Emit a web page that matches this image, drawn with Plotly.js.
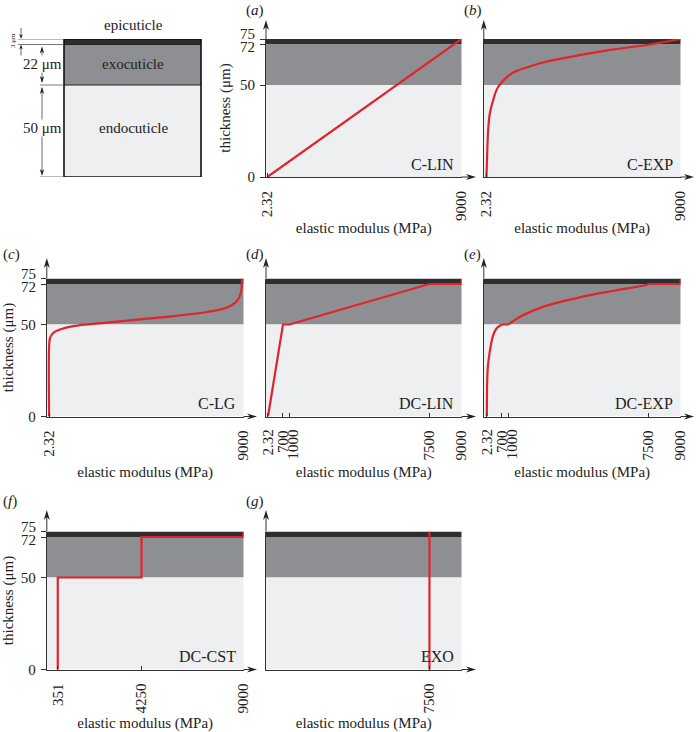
<!DOCTYPE html>
<html><head><meta charset="utf-8">
<script src="https://cdn.plot.ly/plotly-3.0.1.min.js"></script>
<style>html,body{margin:0;padding:0;background:#fff}#chart{width:696px;height:732px}</style>
</head><body><div id="chart"></div>
<script>
// ---------------- data ----------------
const layerNames = ['epicuticle', 'exocuticle', 'endocuticle'];
const layerBottoms = [72, 50, 0];
const layerTops = [75, 72, 50];
const layerColors = ['#2e2e2e', '#8e8f92', '#eeeff1'];

const yTickVals = [0, 50, 72, 75];
const yTickText = ['0', '50', '72', '75'];

const panelLetters = ['a', 'b', 'c', 'd', 'e', 'f', 'g'];
const panelNames = ['C-LIN', 'C-EXP', 'C-LG', 'DC-LIN', 'DC-EXP', 'DC-CST', 'EXO'];
const xTickVals = [
  [2.32, 9000], [2.32, 9000], [2.32, 9000],
  [2.32, 700, 1000, 7500, 9000], [2.32, 700, 1000, 7500, 9000],
  [351, 4250, 9000], [7500]
];
const xTickText = [
  ['2.32', '9000'], ['2.32', '9000'], ['2.32', '9000'],
  ['2.32', '700', '1000', '7500', '9000'], ['2.32', '700', '1000', '7500', '9000'],
  ['351', '4250', '9000'], ['7500']
];

// (a) C-LIN
const clinE = [2.32, 9000];
const clinT = [0, 75];
// (b) C-EXP
const cexpE = [2.32, 33, 80, 159, 312, 544, 1162, 1938, 2714, 4261, 5808, 7360, 9000];
const cexpT = [0, 10.9, 25, 34.5, 41.7, 48.9, 56.2, 59.8, 62.5, 66.1, 69.2, 71.6, 75];
// (c) C-LG
const clgE = [2.32, 2.32, 47, 200, 510, 1126, 2673, 4215, 5758, 7305, 8232, 8695, 8880, 8930];
const clgT = [0, 38.2, 42.8, 45.5, 47.3, 49.1, 51, 52.8, 54.6, 56.8, 59.2, 62.8, 67.4, 75];
// (d) DC-LIN
const dclinE = [2.32, 700, 1000, 7500, 9000, 9000];
const dclinT = [0, 50, 50, 72, 72, 75];
// (e) DC-EXP
const dcexpLowE = [2.32, 40, 129, 283, 438, 700];
const dcexpLowT = [0, 25.5, 34.6, 43.7, 47.7, 50];
const dcexpFlatE = [700, 1000];
const dcexpFlatT = [50, 50];
const dcexpHighE = [1000, 1608, 2705, 4266, 5827, 7393, 7500];
const dcexpHighT = [50, 54.6, 60, 64.6, 68.2, 71.5, 72];
const dcexpTopE = [7500, 9000, 9000];
const dcexpTopT = [72, 72, 75];
// (f) DC-CST
const dccstE = [351, 351, 4250, 4250, 9000, 9000];
const dccstT = [0, 50, 50, 72, 72, 75];
// (g) EXO
const exoE = [7500, 7500];
const exoT = [0, 75];

const series = [
  [{e: clinE, t: clinT}],
  [{e: cexpE, t: cexpT, smooth: true}],
  [{e: clgE, t: clgT, smooth: true}],
  [{e: dclinE, t: dclinT}],
  [{e: dcexpLowE, t: dcexpLowT, smooth: true}, {e: dcexpFlatE, t: dcexpFlatT},
   {e: dcexpHighE, t: dcexpHighT, smooth: true}, {e: dcexpTopE, t: dcexpTopT}],
  [{e: dccstE, t: dccstT}],
  [{e: exoE, t: exoT}]
];

// ---------------- geometry ----------------
const W = 696, H = 732;
const fx = p => p / W, fy = p => 1 - p / H;
const FONT = 'Liberation Serif, Times New Roman, serif';
const RED = '#e1232b', AX = '#333';
const cols = {A: {l: 46.8, r: 243.5, tip: 257}, B: {l: 266, r: 461.5, tip: 476}, C: {l: 483.8, r: 680.5, tip: 694}};
const rows = {1: {t: 39, b: 177, tip: 20, so: 2}, 2: {t: 278.5, b: 416.5, tip: 258, so: 6}, 3: {t: 531.5, b: 669.5, tip: 510, so: 12}};
const panels = [
  {col: 'B', row: 1, xmin: -60, ylab: true},
  {col: 'C', row: 1, xmin: -120},
  {col: 'A', row: 2, xmin: -106, ylab: true},
  {col: 'B', row: 2, xmin: -90},
  {col: 'C', row: 2, xmin: -140},
  {col: 'A', row: 3, xmin: -160, ylab: true},
  {col: 'B', row: 3, xmin: -150}
];
// crowded x tick labels nudged sideways (px)
const xLabelShift = {'1000': 4.5, '2.32': 1};

function headPath(tx, ty, dir, L = 10, Wd = 3, N = 7) {
  let pts;
  if (dir === 'right') pts = [[tx, ty], [tx - L, ty - Wd], [tx - N, ty], [tx - L, ty + Wd]];
  if (dir === 'up') pts = [[tx, ty], [tx - Wd, ty + L], [tx, ty + N], [tx + Wd, ty + L]];
  if (dir === 'down') pts = [[tx, ty], [tx - Wd, ty - L], [tx, ty - N], [tx + Wd, ty - L]];
  return 'M' + pts.map(p => fx(p[0]).toFixed(5) + ',' + fy(p[1]).toFixed(5)).join('L') + 'Z';
}
function pxLine(x0, y0, x1, y1, color, width) {
  return {type: 'line', xref: 'paper', yref: 'paper', x0: fx(x0), y0: fy(y0), x1: fx(x1), y1: fy(y1),
    line: {color: color, width: width}};
}

const traces = [], shapes = [], annotations = [];
const layout = {
  width: W, height: H, margin: {l: 0, r: 0, t: 0, b: 0},
  paper_bgcolor: '#fff', plot_bgcolor: 'rgba(0,0,0,0)',
  font: {family: FONT, size: 15, color: '#222'},
  showlegend: false, hovermode: false
};

panels.forEach((p, i) => {
  const n = i === 0 ? '' : String(i + 1);
  const xa = 'x' + n, ya = 'y' + n;
  const c = cols[p.col], r = rows[p.row];
  const crowded = xTickVals[i].length > 3;
  layout['xaxis' + n] = {
    domain: [fx(c.l), fx(c.r)], range: [p.xmin, 9000], anchor: ya,
    tickmode: 'array', tickvals: xTickVals[i],
    ticktext: xTickText[i].map(s => (crowded && xLabelShift[s]) ? '' : s), tickangle: -90,
    ticks: 'inside', ticklen: 4, tickcolor: AX, tickfont: {size: 15, family: FONT, color: '#222'},
    ticklabelstandoff: 7,
    showline: true, linecolor: AX, linewidth: 1, showgrid: false, zeroline: false, fixedrange: true,
    title: {text: 'elastic modulus (MPa)', font: {size: 15, family: FONT, color: '#222'}, standoff: r.so}
  };
  if (crowded) {
    xTickText[i].forEach((s, k) => {
      if (!xLabelShift[s]) return;
      annotations.push({xref: xa, yref: 'paper', x: xTickVals[i][k], xshift: xLabelShift[s], y: fy(r.b + 11),
        text: s, textangle: -90, showarrow: false, xanchor: 'center', yanchor: 'top', font: {size: 15}});
    });
  }
  layout['yaxis' + n] = {
    domain: [fy(r.b), fy(r.t)], range: [0, 75], anchor: xa,
    tickmode: 'array', tickvals: yTickVals,
    ticktext: yTickText.map(s => (s === '72' || s === '75') ? '' : s),
    ticks: p.ylab ? 'outside' : '', ticklen: 5, tickcolor: AX, showticklabels: !!p.ylab,
    tickfont: {size: 15, family: FONT, color: '#222'}, ticklabelstandoff: 2,
    showline: true, linecolor: AX, linewidth: 1, showgrid: false, zeroline: false, fixedrange: true,
    title: p.ylab ? {text: 'thickness (μm)', font: {size: 15, family: FONT, color: '#222'}, standoff: 5} : {text: ''}
  };
  // layer bands
  layerNames.forEach((nm, k) => {
    shapes.push({type: 'rect', layer: 'below', xref: xa + ' domain', yref: ya, x0: 0, x1: 1,
      y0: layerBottoms[k], y1: layerTops[k], fillcolor: layerColors[k], line: {width: 0}});
  });
  // profile curves
  series[i].forEach(s => {
    traces.push({type: 'scatter', mode: 'lines', x: s.e, y: s.t, xaxis: xa, yaxis: ya,
      line: {color: RED, width: 2.2, shape: s.smooth ? 'spline' : 'linear', smoothing: 1},
      cliponaxis: false, hoverinfo: 'skip', showlegend: false});
  });
  // axis arrows
  shapes.push(pxLine(c.r, r.b, c.tip - 6, r.b, AX, 1));
  shapes.push({type: 'path', xref: 'paper', yref: 'paper', path: headPath(c.tip, r.b, 'right'), fillcolor: '#222', line: {width: 0}});
  shapes.push(pxLine(c.l, r.t, c.l, r.tip + 6, AX, 1));
  shapes.push({type: 'path', xref: 'paper', yref: 'paper', path: headPath(c.l, r.tip, 'up'), fillcolor: '#222', line: {width: 0}});
  // 72 / 75 tick labels (crowded, offset)
  if (p.ylab) {
    annotations.push({xref: 'paper', yref: ya, x: fx(c.l - 9), y: 75, yshift: 5, text: yTickText[3], showarrow: false, xanchor: 'right', yanchor: 'middle', font: {size: 15}});
    annotations.push({xref: 'paper', yref: ya, x: fx(c.l - 9), y: 72, yshift: -2.5, text: yTickText[2], showarrow: false, xanchor: 'right', yanchor: 'middle', font: {size: 15}});
  }
  // panel letter
  const letterX = {A: 1, B: 244, C: 462}[p.col];
  const letterY = {1: 10, 2: 254, 3: 501}[p.row];
  annotations.push({xref: 'paper', yref: 'paper', x: fx(letterX), y: fy(letterY), text: '(<i>' + panelLetters[i] + '</i>)',
    showarrow: false, xanchor: 'left', yanchor: 'middle', font: {size: 15}});
  // panel name
  annotations.push({xref: 'paper', yref: 'paper', x: fx(c.r - 6), y: fy(r.b - 13), text: panelNames[i],
    showarrow: false, xanchor: 'right', yanchor: 'middle', font: {size: 16}});
});

// ---------------- schematic (uses panel (a) thickness scale) ----------------
const sL = 64, sR = 201;
layerNames.forEach((nm, k) => {
  shapes.push({type: 'rect', xref: 'paper', yref: 'y', x0: fx(sL), x1: fx(sR), y0: layerBottoms[k], y1: layerTops[k],
    fillcolor: layerColors[k], line: {width: 0}});
});
[72, 50].forEach(v => shapes.push({type: 'line', xref: 'paper', yref: 'y', x0: fx(sL), x1: fx(sR), y0: v, y1: v, line: {color: '#222', width: 1}}));
shapes.push({type: 'rect', xref: 'paper', yref: 'y', x0: fx(sL), x1: fx(sR), y0: 0, y1: 75, line: {color: '#111', width: 1.6}});
// extension lines
shapes.push({type: 'line', xref: 'paper', yref: 'y', x0: fx(18), x1: fx(sL), y0: 75, y1: 75, line: {color: '#555', width: 0.8}});
shapes.push({type: 'line', xref: 'paper', yref: 'y', x0: fx(18), x1: fx(sL), y0: 72, y1: 72, line: {color: '#555', width: 0.8}});
shapes.push({type: 'line', xref: 'paper', yref: 'y', x0: fx(40), x1: fx(sL), y0: 50, y1: 50, line: {color: '#555', width: 0.8}});
shapes.push({type: 'line', xref: 'paper', yref: 'y', x0: fx(40), x1: fx(sL), y0: 0, y1: 0, line: {color: '#555', width: 0.8}});
// dimension arrows
const yPx = t => 177 - t * 1.84;
const dimX = 42;
shapes.push(pxLine(dimX, yPx(72) + 3, dimX, yPx(50) - 3, '#444', 0.8));
shapes.push({type: 'path', xref: 'paper', yref: 'paper', path: headPath(dimX, yPx(72) + 2, 'up', 7, 2.2, 5), fillcolor: '#222', line: {width: 0}});
shapes.push({type: 'path', xref: 'paper', yref: 'paper', path: headPath(dimX, yPx(50) - 2, 'down', 7, 2.2, 5), fillcolor: '#222', line: {width: 0}});
shapes.push(pxLine(dimX, yPx(50) + 3, dimX, yPx(0) - 3, '#444', 0.8));
shapes.push({type: 'path', xref: 'paper', yref: 'paper', path: headPath(dimX, yPx(50) + 2, 'up', 7, 2.2, 5), fillcolor: '#222', line: {width: 0}});
shapes.push({type: 'path', xref: 'paper', yref: 'paper', path: headPath(dimX, yPx(0) - 1, 'down', 7, 2.2, 5), fillcolor: '#222', line: {width: 0}});
// 3 um arrows
shapes.push(pxLine(21, yPx(75) - 11, 21, yPx(75) - 2, '#444', 0.8));
shapes.push({type: 'path', xref: 'paper', yref: 'paper', path: headPath(21, yPx(75), 'down', 5, 1.8, 3.5), fillcolor: '#222', line: {width: 0}});
shapes.push(pxLine(21, yPx(72) + 11, 21, yPx(72) + 2, '#444', 0.8));
shapes.push({type: 'path', xref: 'paper', yref: 'paper', path: headPath(21, yPx(72), 'up', 5, 1.8, 3.5), fillcolor: '#222', line: {width: 0}});

annotations.push({xref: 'paper', yref: 'paper', x: fx(133), y: fy(25), text: layerNames[0], showarrow: false, xanchor: 'center', yanchor: 'middle', font: {size: 15}});
annotations.push({xref: 'paper', yref: 'y', x: fx(133), y: 61.5, text: layerNames[1], showarrow: false, xanchor: 'center', yanchor: 'middle', font: {size: 15}});
annotations.push({xref: 'paper', yref: 'y', x: fx(133), y: 26.5, text: layerNames[2], showarrow: false, xanchor: 'center', yanchor: 'middle', font: {size: 15}});
annotations.push({xref: 'paper', yref: 'y', x: fx(63), y: 61.5, text: '22 μm', showarrow: false, xanchor: 'right', yanchor: 'middle', bgcolor: '#fff', borderpad: 0, font: {size: 15}});
annotations.push({xref: 'paper', yref: 'y', x: fx(63), y: 26.5, text: '50 μm', showarrow: false, xanchor: 'right', yanchor: 'middle', bgcolor: '#fff', borderpad: 0, font: {size: 15}});
annotations.push({xref: 'paper', yref: 'paper', x: fx(13), y: fy(41), text: '3 μm', showarrow: false, textangle: -90, xanchor: 'center', yanchor: 'middle', font: {size: 7}});

layout.shapes = shapes;
layout.annotations = annotations;
Plotly.newPlot('chart', traces, layout, {staticPlot: true, displayModeBar: false});
</script></body></html>
